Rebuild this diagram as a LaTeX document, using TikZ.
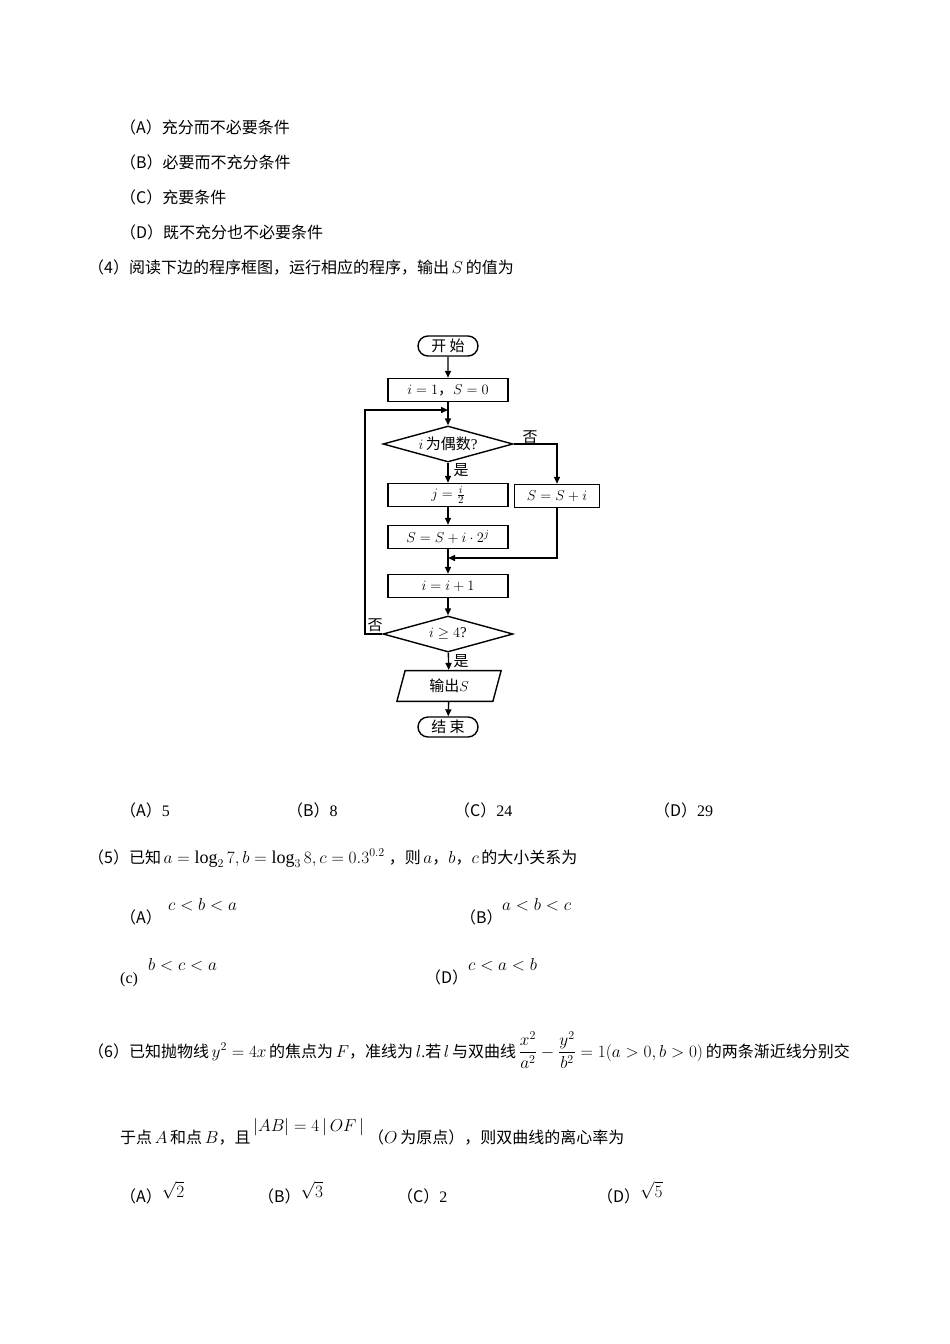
\documentclass[tikz,border=0pt]{standalone}
\usepackage{amsmath}
\usepackage{fontspec}
\setmainfont{Liberation Serif}
\newfontfamily\cjk{Noto Sans CJK SC}
\usetikzlibrary{shapes.geometric,shapes.misc,arrows.meta}
\begin{document}
\begin{tikzpicture}[x=1pt,y=-1pt,
  txt/.style={anchor=base west,inner sep=0pt,font=\fontsize{16}{18}\selectfont},
  fc/.style={font=\fontsize{15}{16}\selectfont},
  bx/.style={draw,line width=1.4pt,minimum width=120pt,minimum height=23pt,inner sep=0pt,fc},
  dia/.style={draw,line width=1.4pt,diamond,aspect=3.7,minimum width=130pt,minimum height=36pt,inner sep=0pt,fc},
  term/.style={draw,line width=1.4pt,rounded rectangle,minimum width=60pt,minimum height=20pt,inner sep=0pt,fc},
  arr/.style={line width=1.4pt,-{Triangle[length=7pt,width=6pt]}},
  lbl/.style={fc,inner sep=0pt}]
\useasboundingbox (0,0) rectangle (950,1344);
% text above
\node[txt] (a1) at (120,133) {\cjk （A）充分而不必要条件};
\node[txt] (a2) at (120,168) {\cjk （B）必要而不充分条件};
\node[txt] (a3) at (120,203) {\cjk （C）充要条件};
\node[txt] (a4) at (120,238) {\cjk （D）既不充分也不必要条件};
\node[txt] (q4) at (88,273) {{\cjk （4）阅读下边的程序框图，运行相应的程序，输出}\,$S$\,{\cjk 的值为}};
% flowchart
\node[term] (st) at (448,346) {\cjk 开\ 始};
\node[bx] (b1) at (448,390) {$i=1${\cjk ，}$S=0$};
\coordinate (lp) at (448,410);
\node[dia] (d1) at (448,444) {$i$\,{\cjk 为偶数}?};
\node[bx] (bj) at (448,495) {$j=\frac{i}{2}$};
\node[bx,minimum width=85pt] (br) at (557,496) {$S=S+i$};
\node[bx] (bs) at (448,537) {$S=S+i\cdot 2^{j}$};
\coordinate (mg) at (448,558);
\node[bx] (bi) at (448,586) {$i=i+1$};
\node[dia] (d2) at (448,634) {$i\geq 4$?};
\node[draw,line width=1.4pt,trapezium,trapezium left angle=75,trapezium right angle=105,minimum width=105pt,minimum height=24pt,inner sep=0pt,fc] (out) at (449,686) {{\cjk 输出}$S$};
\node[term] (en) at (448,727) {\cjk 结\ 束};
\draw[arr] (st) -- (b1);
\draw[arr] (b1) -- (d1);
\draw[arr] (d1) -- (bj);
\draw[arr] (d1.east) -| (br.north);
\draw[arr] (bj) -- (bs);
\draw[line width=1.4pt] (bs.south) -- (mg);
\draw[arr] (br.south) |- (mg);
\draw[arr] (mg) -- (bi);
\draw[arr] (bi) -- (d2);
\draw[arr] (d2) -- (out);
\draw[arr] (out) -- (en);
\draw[arr] (d2.west) -| (365,410) -- (lp);
\node[lbl] (n1) at (530,437) {\cjk 否};
\node[lbl] (y1) at (461,470) {\cjk 是};
\node[lbl] (n2) at (375,625) {\cjk 否};
\node[lbl] (y2) at (461,661) {\cjk 是};
% options
\node[txt] (o1) at (120,816) {{\cjk （A）}5};
\node[txt] (o2) at (287,816) {{\cjk （B）}8};
\node[txt] (o3) at (454,816) {{\cjk （C）}24};
\node[txt] (o4) at (654,816) {{\cjk （D）}29};
% q5
\node[txt] (q5) at (88,863) {{\cjk （5）已知}\,{\fontsize{18}{18}\selectfont$a=\log_2 7,b=\log_3 8,c=0.3^{0.2}$}\ {\cjk ，则}\,$a${\cjk ，}$b${\cjk ，}$c$\,{\cjk 的大小关系为}};
\node[txt] (p1) at (120,923) {\cjk （A）};
\node[txt] (m1) at (168,910) {\fontsize{18}{18}\selectfont$c<b<a$};
\node[txt] (p2) at (460,923) {\cjk （B）};
\node[txt] (m2) at (502,910) {\fontsize{18}{18}\selectfont$a<b<c$};
\node[txt] (p3) at (120,983) {(c)};
\node[txt] (m3) at (148,970) {\fontsize{18}{18}\selectfont$b<c<a$};
\node[txt] (p4) at (425,983) {\cjk （D）};
\node[txt] (m4) at (468,970) {\fontsize{18}{18}\selectfont$c<a<b$};
% q6
\node[txt] (q6) at (88,1057) {{\cjk （6）已知抛物线}\,{\fontsize{18}{18}\selectfont$y^2=4x$}\,{\cjk 的焦点为}\,$F${\cjk ，准线为}\,$l$.{\cjk 若}\,$l$\,{\cjk 与双曲线}\,{\fontsize{18}{18}\selectfont$\dfrac{x^2}{a^2}-\dfrac{y^2}{b^2}=1(a>0,b>0)$}\,{\cjk 的两条渐近线分别交}};
\node[txt] (q6b) at (120,1143) {{\cjk 于点}\,$A$\,{\cjk 和点}\,$B${\cjk ，且}\,\raisebox{12pt}{\fontsize{18}{18}\selectfont$|AB|=4\,|\,OF\,|$}\ {\cjk （}$O$\,{\cjk 为原点），则双曲线的离心率为}};
\node[txt] (r1) at (120,1202) {{\cjk （A）}{\fontsize{18}{18}\selectfont$\raisebox{5pt}{$\sqrt{2}$}$}};
\node[txt] (r2) at (258,1202) {{\cjk （B）}{\fontsize{18}{18}\selectfont$\raisebox{5pt}{$\sqrt{3}$}$}};
\node[txt] (r3) at (397,1202) {{\cjk （C）}2};
\node[txt] (r4) at (597,1202) {{\cjk （D）}{\fontsize{18}{18}\selectfont$\raisebox{5pt}{$\sqrt{5}$}$}};
\end{tikzpicture}
\end{document}
